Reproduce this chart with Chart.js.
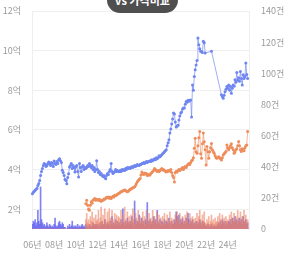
<!DOCTYPE html>
<html>
<head>
<meta charset="utf-8">
<script src="https://cdn.jsdelivr.net/npm/chart.js@4/dist/chart.umd.min.js"></script>
<style>
  body { margin: 0; background: #fff; overflow: hidden; }
  #wrap { position: relative; width: 288px; height: 255px; }
  #badge {
    position: absolute; left: 107px; top: -13px; width: 71px; height: 26px;
    border-radius: 13px; background: #4f4f4f; color: #fff;
    font: bold 11px "Noto Sans CJK KR", sans-serif; line-height: 26px; text-align: center;
  }
</style>
</head>
<body>
<div id="wrap">
  <canvas id="priceChart" width="288" height="255"></canvas>
  <div id="badge">vs 가격비교</div>
</div>
<script>
// monthly, 2006-01 .. 2025-12
const firstYear = 2006, lastYear = 2025;

// 매매 평균가 (억)
const salePrice = [
  2.78, 2.85, 2.9, 2.95, 3.0, 3.05, 3.2, 3.3, 3.45, 3.7, 3.9, 4.05,
  4.2, 4.3, 4.25, 4.15, 4.2, 4.3, 4.38, 4.3, 4.2, 4.35, 4.3, 4.15,
  4.43, 4.3, 4.25, 4.4, 4.3, 4.5, 4.55, 4.45, 4.35, 3.96, 3.85, 3.7,
  3.5, 3.45, 3.28, 3.6, 3.79, 4.13, 4.2, 4.3, 4.05, 4.2, 4.1, 3.87,
  4.13, 4.2, 3.9, 3.62, 4.3, 4.1, 3.9, 4.13, 4.2, 4.0, 4.1, 4.05,
  4.1, 4.2, 4.15, 4.3, 4.2, 4.1, 4.2, 4.0, 4.1, 3.9, 4.0, 4.45,
  4.0, 3.85, 3.9, 3.75, 3.8, 3.7, 3.65, 3.7, 3.6, 3.54, 3.7, 3.8,
  3.75, 3.9, 4.0, 4.3, 3.9, 3.8, 3.85, 3.9, 4.0, 3.9, 3.95, 3.9,
  3.9, 3.95, 3.9, 4.0, 3.95, 4.0, 3.95, 4.05, 4.0, 4.1, 4.05, 4.1,
  4.05, 4.1, 4.15, 4.1, 4.15, 4.2, 4.15, 4.2, 4.25, 4.2, 4.2, 4.25,
  4.25, 4.3, 4.3, 4.35, 4.3, 4.35, 4.4, 4.35, 4.4, 4.4, 4.45, 4.4,
  4.5, 4.45, 4.5, 4.55, 4.5, 4.6, 4.55, 4.6, 4.7, 4.65, 4.7, 4.75,
  4.8, 4.85, 4.9, 4.95, 5.0, 5.2, 5.35, 5.5, 5.85, 6.05, 6.3, 6.55,
  6.85, 6.8, 6.4, 6.15, 6.2, 6.24, 6.5, 6.7, 6.85, 6.9, 7.05, 7.1,
  7.1, 7.3, 7.43, 7.4, 7.5, 7.45, 7.5, 7.51, 6.65, 8.27, 8.0, 8.7,
  9.03, 9.28, 9.5, 10.64, 10.3, 10.1, 9.97, 9.95, 9.9, 10.47, 10.4, 9.88,
  null, null, null, null, null, null, 9.97, null, null, null, null, null,
  null, null, null, null, null, 7.77, 7.68, 7.6, 7.75, 7.93, 8.05, 8.19,
  8.1, 8.27, 8.0, 8.2, 7.85, 8.1, 8.27, 8.2, 8.53, 8.4, 8.9, 8.5,
  8.63, 8.45, 8.95, 8.6, 8.27, 8.78, 8.6, 8.7, 9.37, 8.8, 8.6, null
];

// 전세 평균가 (억)
const rentPrice = [
  null, null, null, null, null, null, null, null, null, null, null, null,
  null, null, null, null, null, null, null, null, null, null, null, null,
  null, null, null, null, null, null, null, null, null, null, null, null,
  null, null, null, null, null, null, null, null, null, null, null, null,
  null, null, null, null, null, null, null, null, null, null, null, 2.28,
  2.45, 2.2, 2.0, 1.94, 2.2, 2.37, 2.3, 2.45, 2.5, 2.54, 2.45, 2.5,
  2.48, 2.45, 2.5, 2.42, 2.4, 2.45, 2.45, 2.52, 2.5, 2.55, 2.6, 2.58,
  2.62, 2.55, 2.6, 2.54, 2.6, 2.65, 2.62, 2.7, 2.68, 2.72, 2.75, 2.79,
  2.8, 2.85, 2.88, 2.9, 2.92, 2.95, 2.97, 2.95, 2.9, 2.88, 2.9, 2.95,
  3.0, 3.02, 3.05, 3.08, 3.1, 3.13, 3.2, 3.3, 3.38, 3.45, 3.5, 3.55,
  3.72, 3.87, 3.8, 3.75, 3.82, 3.78, 3.8, 3.7, 3.75, 3.72, 3.72, 3.8,
  3.85, 3.9, 3.95, 4.05, 4.0, 3.95, 3.9, 3.95, 3.9, 3.95, 4.0, 4.05,
  3.98, 4.0, 3.95, 3.92, 3.87, 3.9, 3.95, 3.92, 3.95, 4.0, 3.85, 3.7,
  3.6, 3.37, 3.85, 3.9, 3.88, 3.95, 4.0, 3.95, 4.0, 4.05, 4.1, 4.0,
  4.1, 4.15, 4.1, 4.2, 4.25, 4.3, 4.25, 4.35, 4.45, 4.48, 4.6, 5.08,
  5.58, 4.9, 4.82, 5.2, 5.6, 5.92, 4.8, 4.57, 5.3, 5.84, 5.4, 5.0,
  4.23, 5.16, 4.9, 4.57, 4.9, 5.1, 5.32, 5.0, 4.9, 4.82, 4.7, 4.6,
  4.57, 4.6, 4.65, 4.6, 4.55, 4.48, 4.6, 4.74, 4.8, 4.85, 4.91, 5.24,
  5.1, 5.0, 5.1, 5.2, 5.3, 5.1, 5.0, 4.82, 4.9, 5.0, 5.05, 5.2,
  5.42, 5.2, 5.0, 4.91, 5.05, 5.0, 4.95, 5.1, 5.2, 5.24, 5.92, null
];

// 매매 거래건수 (건)
const saleCount = [
  3, 5, 4, 6, 2, 4, 12, 5, 3, 27, 6, 4,
  2, 3, 1, 2, 4, 2, 1, 3, 2, 1, 2, 1,
  3, 7, 2, 1, 2, 4, 5, 3, 2, 4, 3, 1,
  1, 0, 0, 2, 1, 3, 1, 2, 5, 1, 2, 1,
  2, 1, 3, 1, 2, 1, 2, 3, 1, 2, 1, 3,
  1, 2, 1, 3, 2, 1, 2, 4, 2, 3, 2, 3,
  2, 3, 1, 4, 2, 5, 3, 2, 6, 3, 2, 4,
  3, 2, 5, 3, 8, 2, 4, 3, 6, 2, 5, 3,
  4, 2, 6, 3, 13, 4, 2, 5, 3, 7, 4, 3,
  5, 3, 8, 4, 2, 18, 6, 3, 5, 4, 9, 3,
  4, 7, 3, 5, 2, 6, 4, 17, 5, 3, 6, 4,
  3, 5, 8, 4, 6, 3, 12, 4, 3, 6, 2, 5,
  4, 2, 6, 3, 5, 4, 3, 7, 4, 2, 5, 3,
  3, 6, 4, 11, 8, 5, 9, 3, 6, 4, 7, 3,
  5, 3, 7, 4, 10, 6, 3, 5, 4, 6, 3, 4,
  3, 5, 2, 4, 3, 6, 4, 2, 5, 3, 4, 2,
  2, 1, 3, 2, 1, 2, 3, 1, 2, 1, 2, 1,
  2, 3, 4, 2, 5, 3, 6, 4, 3, 5, 2, 4,
  3, 5, 4, 6, 3, 7, 4, 5, 8, 4, 6, 3,
  5, 7, 4, 6, 3, 8, 5, 4, 6, 3, 4, 0
];

// 전세 거래건수 (건)
const rentCount = [
  0, 0, 0, 0, 0, 0, 0, 0, 0, 0, 0, 0,
  0, 0, 0, 0, 0, 0, 0, 0, 0, 0, 0, 0,
  0, 0, 0, 0, 0, 0, 0, 0, 0, 0, 0, 0,
  0, 0, 0, 0, 0, 0, 0, 0, 0, 0, 0, 0,
  0, 0, 0, 0, 0, 0, 0, 0, 0, 0, 0, 6,
  10, 4, 6, 3, 8, 5, 11, 4, 7, 3, 9, 5,
  6, 12, 4, 7, 14, 5, 9, 3, 13, 6, 4, 11,
  5, 13, 7, 4, 12, 6, 3, 10, 5, 9, 4, 8,
  7, 4, 12, 5, 9, 3, 14, 6, 4, 11, 5, 8,
  4, 9, 5, 13, 6, 3, 10, 7, 4, 12, 5, 8,
  6, 4, 11, 5, 8, 3, 12, 6, 4, 10, 5, 7,
  5, 12, 4, 8, 6, 3, 11, 5, 9, 4, 7, 3,
  8, 4, 10, 5, 3, 9, 6, 4, 11, 5, 7, 4,
  6, 3, 9, 5, 11, 7, 4, 10, 6, 3, 8, 5,
  4, 9, 6, 11, 5, 3, 10, 7, 4, 8, 6, 3,
  7, 4, 10, 5, 8, 12, 6, 3, 9, 5, 11, 4,
  3, 6, 4, 8, 3, 5, 9, 4, 6, 3, 7, 4,
  5, 8, 4, 10, 6, 3, 9, 5, 7, 4, 8, 5,
  6, 3, 9, 5, 11, 4, 7, 10, 5, 8, 4, 12,
  7, 5, 11, 4, 8, 6, 12, 5, 9, 4, 6, 0
];

const leftTicks = [2, 4, 6, 8, 10, 12];

const months = [];
for (let y = firstYear; y <= lastYear; y++) {
  for (let m = 1; m <= 12; m++) months.push(y + '-' + String(m).padStart(2, '0'));
}

const tickFont = { family: '"Noto Sans CJK KR", "Noto Sans", sans-serif', size: 9 };
const tickColor = '#9b9b9b';

const ctx = document.getElementById('priceChart').getContext('2d');

const chart = new Chart(ctx, {
  type: 'bar',
  data: {
    labels: months,
    datasets: [
      {
        type: 'line',
        label: '매매가',
        data: salePrice,
        yAxisID: 'y',
        order: 0,
        spanGaps: true,
        borderColor: 'rgba(120,140,240,0.7)',
        borderWidth: 1,
        pointRadius: 1.5,
        pointBackgroundColor: '#6f86f0',
        pointBorderWidth: 0,
        tension: 0
      },
      {
        type: 'line',
        label: '전세가',
        data: rentPrice,
        yAxisID: 'y',
        order: 1,
        spanGaps: true,
        borderColor: 'rgba(238,145,100,0.65)',
        borderWidth: 1,
        pointRadius: 1.5,
        pointBackgroundColor: '#ee8d5c',
        pointBorderWidth: 0,
        tension: 0
      },
      {
        label: '매매 거래량',
        data: saleCount,
        yAxisID: 'y1',
        order: 3,
        backgroundColor: 'rgba(100,100,240,0.8)',
        grouped: false,
        barThickness: 1
      },
      {
        label: '전세 거래량',
        data: rentCount,
        yAxisID: 'y1',
        order: 2,
        backgroundColor: 'rgba(236,130,100,0.6)',
        grouped: false,
        barThickness: 1
      }
    ]
  },
  options: {
    responsive: false,
    animation: false,
    layout: { padding: { top: 11, left: 0, right: 0, bottom: 0 } },
    plugins: { legend: { display: false }, tooltip: { enabled: false } },
    scales: {
      x: {
        grid: { display: false, drawTicks: false },
        border: { display: false },
        afterFit: s => { s.height = 26; s.paddingLeft = 0; s.paddingRight = 0; },
        ticks: {
          autoSkip: false, maxRotation: 0, padding: 10,
          font: tickFont, color: tickColor,
          callback: function (val, i) {
            const [y, m] = months[i].split('-');
            if (m === '01' && Number(y) % 2 === 0) return y.slice(2) + '년';
            return null;
          }
        }
      },
      y: {
        position: 'left',
        min: 1, max: 12,
        afterBuildTicks: axis => { axis.ticks = leftTicks.map(v => ({ value: v })); },
        afterFit: s => { s.width = 32; s.paddingTop = 0; s.paddingBottom = 0; },
        grid: { color: '#efefef', drawTicks: false },
        border: { color: '#efefef' },
        ticks: { padding: 11, font: tickFont, color: tickColor, callback: v => v + '억' }
      },
      y1: {
        position: 'right',
        min: 0, max: 140,
        afterFit: s => { s.width = 39; s.paddingTop = 0; s.paddingBottom = 0; },
        grid: { display: false, drawTicks: false },
        border: { color: '#efefef' },
        ticks: {
          stepSize: 20, padding: 12, font: tickFont, color: tickColor,
          callback: v => (v === 0 ? '0' : v + '건')
        }
      }
    }
  }
});
</script>
</body>
</html>
